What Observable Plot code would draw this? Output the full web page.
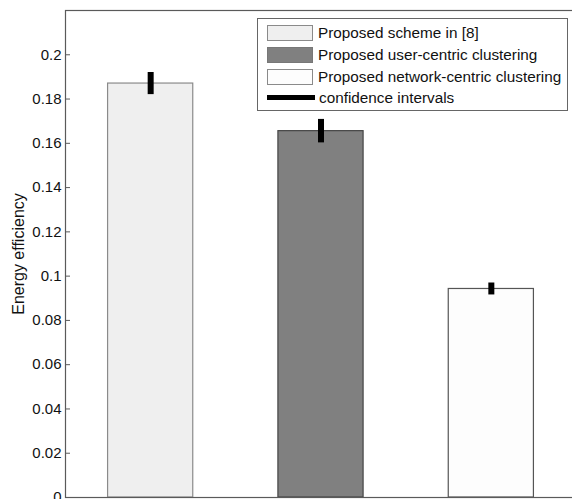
<!DOCTYPE html>
<html>
<head>
<meta charset="utf-8">
<script src="https://cdn.jsdelivr.net/npm/d3@7"></script>
<script src="https://cdn.jsdelivr.net/npm/@observablehq/plot@0.6"></script>
<style>
  html, body { margin: 0; padding: 0; background: #fff; overflow: hidden; }
  #wrap { position: relative; width: 572px; height: 499px; overflow: hidden; }
  #legend {
    position: absolute; left: 257px; top: 18px; width: 311px; height: 93px;
    border: 1px solid #666; background: #fff; box-sizing: border-box;
    font-family: "Liberation Sans", Arial, sans-serif; font-size: 15.3px; color: #111;
  }
  .row { position: absolute; left: 9px; height: 17px; display: flex; align-items: center; white-space: nowrap; }
  .sw { width: 46px; height: 16px; border: 1px solid #8a8a8a; box-sizing: border-box; margin-right: 5px; flex: none; }
  .ln { width: 48px; height: 5px; background: #000; margin-right: 4px; flex: none; }
</style>
</head>
<body>
<div id="wrap"><div id="legend"></div></div>
<script>
// Schemes compared and their measured energy efficiency
const schemes = [
  "Proposed scheme in [8]",
  "Proposed user-centric clustering",
  "Proposed network-centric clustering"
];
const efficiency = [0.187, 0.1655, 0.0942];
// Half-width of each confidence interval
const ciHalfWidth = [0.005, 0.0053, 0.0027];
const ciLabel = "confidence intervals";
const yTicks = [0, 0.02, 0.04, 0.06, 0.08, 0.1, 0.12, 0.14, 0.16, 0.18, 0.2];
const yLabel = "Energy efficiency";

// Bar appearance per scheme
const barFill = ["#efefef", "#808080", "#fdfdfd"];
const barStroke = ["#8a8a8a", "#444444", "#555555"];

const rows = schemes.map((name, i) => ({
  name,
  pos: i + 1,
  value: efficiency[i],
  lo: efficiency[i] - ciHalfWidth[i],
  hi: efficiency[i] + ciHalfWidth[i]
}));

const fmt = d => String(+d.toFixed(2));

const chart = Plot.plot({
  width: 572,
  height: 499,
  marginLeft: 65,
  marginRight: -4,
  marginTop: 10,
  marginBottom: 2,
  style: { fontFamily: "'Liberation Sans', Arial, sans-serif", fontSize: "15px", color: "#111", background: "#fff" },
  x: { domain: [0.5, 3.5], axis: null },
  y: { domain: [0, 0.22], axis: null },
  color: { domain: schemes, range: barFill },
  marks: [
    Plot.rect(rows, {
      x1: d => d.pos - 0.25, x2: d => d.pos + 0.25, y1: 0, y2: "value",
      fill: "name", stroke: (d, i) => barStroke[i], strokeWidth: 1.2
    }),
    Plot.ruleX(rows, { x: "pos", y1: "lo", y2: "hi", stroke: "#000", strokeWidth: 6 }),
    Plot.frame({ stroke: "#5a5a5a", strokeWidth: 1.2 }),
    Plot.axisY(yTicks, {
      anchor: "left", tickSize: -5, tickPadding: 9, tickFormat: fmt, stroke: "#5a5a5a",
      fill: "#111", label: null
    }),
    // axis title on its own so it can be set slightly larger than the tick labels
    Plot.axisY([], {
      anchor: "left", tickSize: 0, label: yLabel, labelAnchor: "center", labelArrow: "none",
      labelOffset: 53, fontSize: 16, fill: "#111"
    }),
    Plot.axisY(yTicks, { anchor: "right", tickSize: -5, tickFormat: () => "", label: null, stroke: "#5a5a5a" })
  ]
});
document.getElementById("wrap").prepend(chart);

// Legend drawn inside the axes area
const legend = d3.select("#legend");
const rowTops = [5, 27, 49, 70];
schemes.forEach((name, i) => {
  const r = legend.append("div").attr("class", "row").style("top", rowTops[i] + "px");
  r.append("div").attr("class", "sw").style("background", barFill[i])
    .style("border-color", i === 1 ? "#777" : "#8a8a8a");
  r.append("span").text(name);
});
const ci = legend.append("div").attr("class", "row").style("top", rowTops[3] + "px");
ci.append("div").attr("class", "ln");
ci.append("span").text(ciLabel);
</script>
</body>
</html>
